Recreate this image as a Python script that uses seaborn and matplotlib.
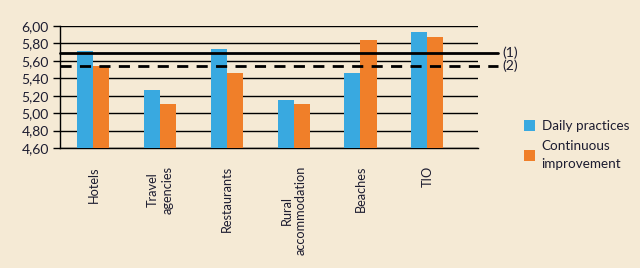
import matplotlib
matplotlib.use("Agg")
import matplotlib.pyplot as plt
import seaborn as sns
import pandas as pd
from matplotlib.patches import Patch

categories = ["Hotels", "Travel\nagencies", "Restaurants", "Rural\naccommodation", "Beaches", "TIO"]
daily = [5.71, 5.27, 5.74, 5.15, 5.46, 5.93]
continuous = [5.54, 5.10, 5.46, 5.10, 5.84, 5.87]
series_names = ["Daily practices", "Continuous\nimprovement"]
ref_values = [5.69, 5.54]
ref_labels = ["(1)", "(2)"]
yticks = [4.60, 4.80, 5.00, 5.20, 5.40, 5.60, 5.80, 6.00]

bg = "#F5EAD5"
blue = "#39A9E0"
orange = "#F07F29"
txt = "#1c1c30"

sns.set_theme(style="white")
plt.rcParams["font.family"] = ["Lato", "DejaVu Sans"]

df = pd.DataFrame({
    "cat": categories * 2,
    "series": [series_names[0]] * len(categories) + [series_names[1]] * len(categories),
    "value": daily + continuous,
})

fig = plt.figure(figsize=(6.4, 2.68), dpi=100, facecolor=bg)
ax = fig.add_axes([60 / 640, (268 - 148) / 268, (478 - 60) / 640, (148 - 26) / 268])
ax.set_facecolor(bg)

sns.barplot(data=df, x="cat", y="value", hue="series", order=categories,
            hue_order=series_names, palette=[blue, orange], width=0.48,
            ax=ax, legend=False, saturation=1, zorder=3, linewidth=0, edgecolor="none")

ax.set_ylim(4.6, 6.0)
ax.set_xlim(-0.5, 5.76)
ax.set_yticks(yticks)
ax.set_yticklabels([f"{v:.2f}".replace(".", ",") for v in yticks], fontsize=10, color=txt)
for y in yticks:
    ax.axhline(y, color="black", lw=1.0, zorder=1)

ax.set_xticks(range(len(categories)))
ax.set_xticklabels(categories, rotation=90, fontsize=9.2, color=txt, va="top", ha="center")
ax.tick_params(axis="x", length=0, pad=13)
ax.set_xticks([i - 0.5 for i in range(len(categories) + 1)], minor=True)
ax.tick_params(axis="x", which="minor", direction="inout", length=7, width=1, color="black")
ax.tick_params(axis="y", direction="out", length=5, width=1, color="black", pad=3, left=True)
ax.set_xlabel("")
ax.set_ylabel("")

for s in ["top", "right"]:
    ax.spines[s].set_visible(False)
for s in ["left", "bottom"]:
    ax.spines[s].set_color("black")
    ax.spines[s].set_linewidth(1.0)

styles = ["-", (0, (4, 3))]
tr = ax.get_yaxis_transform()
for val, lab, ls in zip(ref_values, ref_labels, styles):
    ax.plot([0, 438 / 418], [val, val], transform=tr, color="black", lw=2, ls=ls,
            clip_on=False, zorder=4)
    ax.text(442 / 418, val, lab, transform=tr, va="center", ha="left",
            fontsize=10, color=txt)

handles = [Patch(facecolor=blue, edgecolor="none"), Patch(facecolor=orange, edgecolor="none")]
leg = fig.legend(handles, series_names, loc="upper left", bbox_to_anchor=(512 / 640, 1 - 108 / 268),
                 frameon=False, fontsize=9.7, handlelength=0.8, handleheight=0.8,
                 handletextpad=0.5, labelspacing=0.6, labelcolor=txt)
for t in leg.get_texts():
    t.set_linespacing(1.6)

fig.savefig("out.png", dpi=100, facecolor=bg)
